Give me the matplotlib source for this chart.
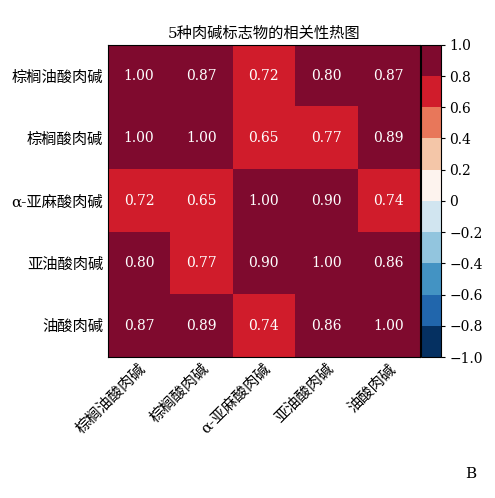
import numpy as np
import matplotlib.pyplot as plt
from matplotlib.colors import ListedColormap, BoundaryNorm

plt.rcParams['font.family'] = ['DejaVu Serif', 'Noto Sans CJK SC']
plt.rcParams['mathtext.fontset'] = 'cm'

labels = ["棕榈油酸肉碱", "棕榈酸肉碱", "α-亚麻酸肉碱", "亚油酸肉碱", "油酸肉碱"]
values = [
    [1.00, 0.87, 0.72, 0.80, 0.87],
    [1.00, 1.00, 0.65, 0.77, 0.89],
    [0.72, 0.65, 1.00, 0.90, 0.74],
    [0.80, 0.77, 0.90, 1.00, 0.86],
    [0.87, 0.89, 0.74, 0.86, 1.00],
]
colors = ["#053061", "#2166ac", "#4393c3", "#92c5de", "#d1e5f0",
          "#fdf3ee", "#f4c6a8", "#e8775a", "#d01c2b", "#7f0a2e"]
bounds = np.linspace(-1, 1, 11)

cmap = ListedColormap(colors)
norm = BoundaryNorm(bounds, cmap.N)
data = np.array(values)

fig = plt.figure(figsize=(4.95, 4.98), dpi=100)
ax = fig.add_axes([0.218, 0.283, 0.630, 0.627])
cax = fig.add_axes([0.850, 0.283, 0.040, 0.627])

im = ax.imshow(data, cmap=cmap, norm=norm, aspect='auto')
for i in range(5):
    for j in range(5):
        ax.text(j, i, f"{data[i, j]:.2f}", ha='center', va='center',
                color='white', fontsize=10)

ax.set_xticks(range(5))
ax.set_yticks(range(5))
ax.set_xticklabels(labels, rotation=45, ha='right', rotation_mode='anchor', fontsize=11)
ax.set_yticklabels(labels, fontsize=11)
ax.tick_params(length=0)
ax.set_title("5种肉碱标志物的相关性热图", fontsize=11, pad=5)

cb = fig.colorbar(im, cax=cax, ticks=bounds)
cb.ax.set_yticklabels([f"{b:.1f}".replace("-", "−") if abs(b) > 1e-9 else "0" for b in bounds],
                      fontsize=10)
cb.ax.tick_params(length=3)

fig.text(0.94, 0.04, "B", fontsize=11)
fig.savefig("out.png", dpi=100)
